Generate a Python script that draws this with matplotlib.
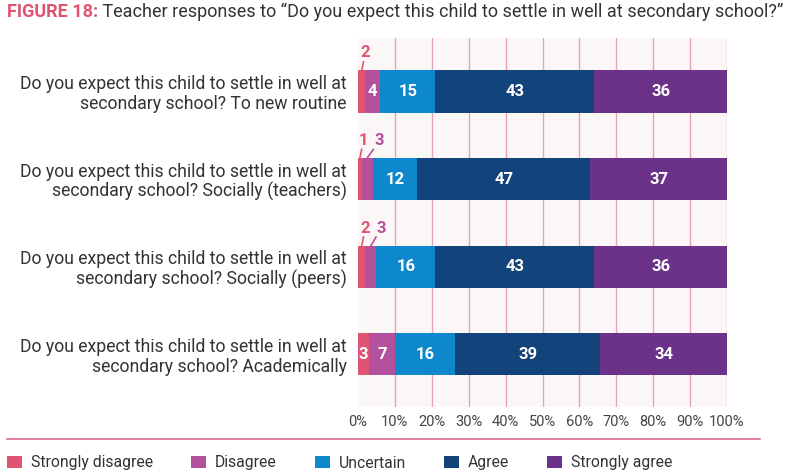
import numpy as np
import matplotlib.pyplot as plt
from matplotlib.patches import Patch
from matplotlib.lines import Line2D

plt.rcParams['font.family'] = ['Roboto', 'DejaVu Sans']

# --- Data ---
questions = [
    "Do you expect this child to settle in well at\nsecondary school? To new routine",
    "Do you expect this child to settle in well at\nsecondary school? Socially (teachers)",
    "Do you expect this child to settle in well at\nsecondary school? Socially (peers)",
    "Do you expect this child to settle in well at\nsecondary school? Academically",
]
responses = ["Strongly disagree", "Disagree", "Uncertain", "Agree", "Strongly agree"]
strongly_disagree = [2, 1, 2, 3]
disagree = [4, 3, 3, 7]
uncertain = [15, 12, 16, 16]
agree = [43, 47, 43, 39]
strongly_agree = [36, 37, 36, 34]
xticks = [0, 10, 20, 30, 40, 50, 60, 70, 80, 90, 100]

colors = ["#e05473", "#b4519c", "#0e88cc", "#12437a", "#6c3289"]
text_col = "#333333"

values = np.array([strongly_disagree, disagree, uncertain, agree, strongly_agree], dtype=float)
shares = values / values.sum(axis=0) * 100  # bars are drawn as 100% stacks

fig = plt.figure(figsize=(7.89, 4.75), dpi=100)
ax = fig.add_axes([358 / 789, 1 - 407 / 475, 369 / 789, 369 / 475])
ax.set_facecolor("#fcf7f7")

y = np.arange(len(questions))
bar_h = 0.48
left = np.zeros(len(questions))
for i, name in enumerate(responses):
    ax.barh(y, shares[i], left=left, height=bar_h, color=colors[i], label=name, zorder=2)
    left = left + shares[i]

# --- value labels ---
for j in range(len(questions)):
    start = 0.0
    prev_out = False
    prev_lx = None
    for i in range(len(responses)):
        v = values[i, j]
        w = shares[i, j]
        cx = start + w / 2
        outside = v < 3 or (v <= 3 and prev_out)
        if outside:
            lx = cx + 1.0 if prev_lx is None else max(cx + 2.5, prev_lx + 4.3)
            top = y[j] - bar_h / 2
            ax.text(lx, top - 0.2, f"{int(v)}", color=colors[i], fontsize=12,
                    fontweight="bold", ha="center", va="center", zorder=3)
            ax.plot([cx, (cx + lx) / 2], [top, top - 0.1], color=colors[i], lw=1.2,
                    zorder=3, clip_on=False)
            prev_lx = lx
        else:
            ax.text(cx, y[j], f"{int(v)}", color="white", fontsize=12,
                    fontweight="bold", ha="center", va="center", zorder=3)
        prev_out = outside
        start += w

ax.set_xlim(0, 100)
ax.set_ylim(3.6, -0.61)
ax.set_xticks(xticks)
ax.set_xticklabels([f"{t}%" for t in xticks], fontsize=10.5, color="#444444")
ax.set_yticks(y)
ax.set_yticklabels(questions, fontsize=12.7, color=text_col, linespacing=1.1)
ax.tick_params(length=0)
ax.tick_params(axis="y", pad=8)
ax.tick_params(axis="x", pad=6)
for s in ax.spines.values():
    s.set_visible(False)
ax.xaxis.grid(True, color="#e8a3b8", lw=1, zorder=1)
ax.set_axisbelow(True)
ax.get_xgridlines()[0].set_visible(False)

# --- title ---
t1 = fig.text(7 / 789, 1 - 12 / 475, "FIGURE 18:", fontsize=13, fontweight="bold",
              color="#e05473", va="center", ha="left")
ax.annotate(" Teacher responses to \u201cDo you expect this child to settle in well at secondary school?\u201d",
            xy=(1, 0), xycoords=t1, va="bottom", ha="left", fontsize=13,
            color=text_col, annotation_clip=False)

# --- separator line ---
fig.add_artist(Line2D([7 / 789, 760 / 789], [1 - 439 / 475, 1 - 439 / 475],
                      color="#d65b79", lw=1.1, transform=fig.transFigure))

# --- legend ---
handles = [Patch(facecolor=c, label=r) for c, r in zip(colors, responses)]
fig.legend(handles=handles, loc="center left", bbox_to_anchor=(7 / 789, 1 - 463 / 475),
           bbox_transform=fig.transFigure, ncol=5, frameon=False, fontsize=11.3,
           handlelength=0.95, handleheight=0.88, handletextpad=0.55, columnspacing=2.45,
           borderpad=0, borderaxespad=0, labelcolor=text_col)

fig.savefig("out.png", dpi=100, facecolor="white")
